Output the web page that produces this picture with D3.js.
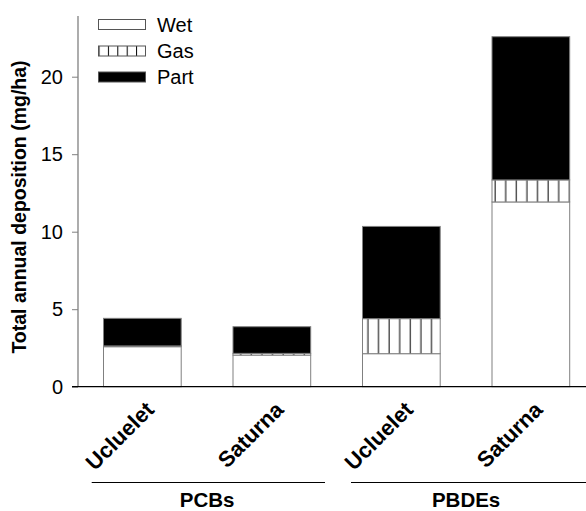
<!DOCTYPE html>
<html>
<head>
<meta charset="utf-8">
<script src="https://cdn.jsdelivr.net/npm/d3@7"></script>
<style>
  html, body { margin: 0; padding: 0; background: #fff; }
  svg { display: block; font-family: Arial, "Liberation Sans", sans-serif; }
</style>
</head>
<body>
<svg id="chart" width="586" height="511"></svg>
<script>
// Sites and compound groups
const sites = ["Ucluelet", "Saturna", "Ucluelet", "Saturna"];
const groups = ["PCBs", "PCBs", "PBDEs", "PBDEs"];
const groupNames = ["PCBs", "PBDEs"];

// Deposition components (mg/ha per year)
const wet  = [2.58, 2.04, 2.13, 11.92];
const gas  = [0.05, 0.11, 2.26, 1.42];
const part = [1.78, 1.72, 5.95, 9.24];

const seriesNames = ["Wet", "Gas", "Part"];
const yTicks = [0, 5, 10, 15, 20];

const svg = d3.select("#chart");
const W = 586, H = 511;
const axisX = 78, baseY = 386.7, topY = 14.7;

const keys = sites.map((s, i) => i);
const x = d3.scaleBand().domain(keys).range([77.6, 595.6]).paddingInner(0.4).paddingOuter(0.2);
const y = d3.scaleLinear().domain([0, 24]).range([baseY, topY]);

// vertical hatch pattern for the gas component
const defs = svg.append("defs");
const pat = defs.append("pattern")
  .attr("id", "hatch").attr("patternUnits", "userSpaceOnUse")
  .attr("width", 10.6).attr("height", 10).attr("x", 2.5);
pat.append("rect").attr("width", 10.6).attr("height", 10).attr("fill", "#fff");
pat.append("line").attr("x1", 5).attr("x2", 5).attr("y1", 0).attr("y2", 10)
  .attr("stroke", "#000").attr("stroke-width", 1);

const legPat = defs.append("pattern")
  .attr("id", "hatchLeg").attr("patternUnits", "userSpaceOnUse")
  .attr("width", 9.4).attr("height", 10).attr("x", 98.5);
legPat.append("rect").attr("width", 9.4).attr("height", 10).attr("fill", "#fff");
legPat.append("line").attr("x1", 0.5).attr("x2", 0.5).attr("y1", 0).attr("y2", 10)
  .attr("stroke", "#000").attr("stroke-width", 1);

const fills = { Wet: "#fff", Gas: "url(#hatch)", Part: "#000" };

// stacked bars
const stackData = keys.map(i => ({ key: i, Wet: wet[i], Gas: gas[i], Part: part[i] }));
const stacked = d3.stack().keys(seriesNames)(stackData);

const barG = svg.append("g");
stacked.forEach(layer => {
  barG.append("g").selectAll("rect").data(layer).join("rect")
    .attr("x", d => x(d.data.key))
    .attr("width", x.bandwidth())
    .attr("y", d => y(d[1]))
    .attr("height", d => Math.max(0, y(d[0]) - y(d[1])))
    .attr("fill", fills[layer.key])
    .attr("stroke", "#808080")
    .attr("stroke-width", 1);
});

// y axis
const yAxis = d3.axisLeft(y).tickValues(yTicks).tickSize(6).tickPadding(9);
const yg = svg.append("g").attr("transform", `translate(${axisX},0)`).call(yAxis);
yg.select(".domain").remove();
yg.selectAll(".tick line").attr("stroke", "#808080");
yg.selectAll(".tick text").attr("font-size", 20).attr("fill", "#000")
  .attr("font-family", "Arial, 'Liberation Sans', sans-serif");
svg.append("line").attr("x1", axisX).attr("x2", axisX).attr("y1", 16).attr("y2", baseY)
  .attr("stroke", "#808080").attr("stroke-width", 1.3);

// baseline
svg.append("line").attr("x1", 72).attr("x2", W).attr("y1", baseY).attr("y2", baseY)
  .attr("stroke", "#000").attr("stroke-width", 1.3);

// y axis title
svg.append("text")
  .attr("transform", `translate(26,207) rotate(-90)`)
  .attr("text-anchor", "middle")
  .attr("font-size", 19.5).attr("font-weight", "bold")
  .text("Total annual deposition (mg/ha)");

// rotated site labels
svg.append("g").selectAll("text").data(keys).join("text")
  .attr("transform", i => `translate(${x(i) + x.bandwidth() / 2 + 13},${411}) rotate(-45)`)
  .attr("text-anchor", "end")
  .attr("font-size", 22).attr("font-weight", "bold")
  .text(i => sites[i]);

// group brackets
const groupSpans = [[91.7, 325], [351, 586]];
groupNames.forEach((g, gi) => {
  svg.append("line")
    .attr("x1", groupSpans[gi][0]).attr("x2", groupSpans[gi][1])
    .attr("y1", 482.5).attr("y2", 482.5)
    .attr("stroke", "#000").attr("stroke-width", 1.2);
  const idx = keys.filter(i => groups[i] === g);
  const cx = d3.mean(idx, i => x(i) + x.bandwidth() / 2);
  svg.append("text")
    .attr("x", cx).attr("y", 506.5)
    .attr("text-anchor", "middle")
    .attr("font-size", 20.5).attr("font-weight", "bold")
    .text(g);
});

// legend
const legFills = { Wet: "#fff", Gas: "url(#hatchLeg)", Part: "#000" };
const legRows = [24.5, 51, 77];
const leg = svg.append("g");
seriesNames.forEach((s, i) => {
  leg.append("rect")
    .attr("x", 98.5).attr("y", legRows[i] - 5)
    .attr("width", 47).attr("height", 10)
    .attr("fill", legFills[s]).attr("stroke", "#555").attr("stroke-width", 1);
  leg.append("text")
    .attr("x", 157).attr("y", legRows[i])
    .attr("dy", "0.35em")
    .attr("font-size", 20)
    .text(s);
});
</script>
</body>
</html>
